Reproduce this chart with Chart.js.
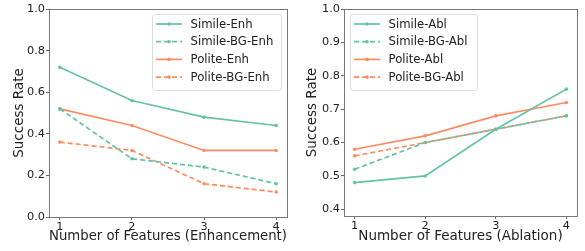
<!DOCTYPE html>
<html><head><meta charset="utf-8">
<script src="https://cdn.jsdelivr.net/npm/chart.js@4"></script>
<style>
html,body{margin:0;padding:0;background:#fff;width:585px;height:251px;overflow:hidden}
.w{position:absolute;top:0;height:251px}
</style></head><body>
<div class="w" style="left:0;width:292px"><canvas id="c1"></canvas></div>
<div class="w" style="left:292px;width:293px"><canvas id="c2"></canvas></div>
<script>
const xValues = [1, 2, 3, 4];
const enhLabels = ["Simile-Enh", "Simile-BG-Enh", "Polite-Enh", "Polite-BG-Enh"];
const simileEnh = [0.72, 0.56, 0.48, 0.44];
const simileBGEnh = [0.52, 0.28, 0.24, 0.16];
const politeEnh = [0.52, 0.44, 0.32, 0.32];
const politeBGEnh = [0.36, 0.32, 0.16, 0.12];
const ablLabels = ["Simile-Abl", "Simile-BG-Abl", "Polite-Abl", "Polite-BG-Abl"];
const simileAbl = [0.48, 0.50, 0.64, 0.76];
const simileBGAbl = [0.52, 0.60, 0.64, 0.68];
const politeAbl = [0.58, 0.62, 0.68, 0.72];
const politeBGAbl = [0.56, 0.60, 0.64, 0.68];
const yTicksEnh = [0.0, 0.2, 0.4, 0.6, 0.8, 1.0];
const yTicksAbl = [0.4, 0.5, 0.6, 0.7, 0.8, 0.9, 1.0];

const GREEN = '#66c2a5', ORANGE = '#fc8d62';
const FONT = 'DejaVu Sans';
const DASH = [5, 3];

function ds(label, vals, color, dashed) {
  return {
    label, data: vals.map((v, i) => ({x: xValues[i], y: v})),
    borderColor: color, backgroundColor: color, borderWidth: 1.7,
    borderDash: dashed ? DASH : [], pointRadius: 1.8, pointHoverRadius: 1.8,
    pointBorderWidth: 0, tension: 0, fill: false
  };
}

const framePlugin = {
  id: 'frame',
  afterDatasetsDraw(chart, args, opts) {
    const ctx = chart.ctx, a = chart.chartArea;
    ctx.save();
    ctx.strokeStyle = '#777'; ctx.lineWidth = 1;
    ctx.strokeRect(Math.round(a.left) + 0.5, Math.round(a.top) + 0.5,
      Math.round(a.right - a.left), Math.round(a.bottom - a.top));
    const L = opts.legend;
    const x0 = a.left + L.x, y0 = a.top + L.y, w = L.w, h = L.h;
    ctx.globalAlpha = 0.85;
    ctx.fillStyle = '#fff';
    ctx.beginPath();
    ctx.roundRect(x0 + 0.5, y0 + 0.5, w, h, 3);
    ctx.fill();
    ctx.globalAlpha = 1;
    ctx.strokeStyle = '#dcdcdc';
    ctx.stroke();
    ctx.font = '11.7px "' + FONT + '"';
    ctx.textBaseline = 'middle';
    chart.data.datasets.forEach((d, i) => {
      const yy = y0 + 10 + i * 17.7;
      const lx = x0 + 4;
      ctx.strokeStyle = d.borderColor; ctx.lineWidth = 1.7;
      ctx.setLineDash(d.borderDash);
      ctx.beginPath(); ctx.moveTo(lx, yy); ctx.lineTo(lx + 26, yy); ctx.stroke();
      ctx.setLineDash([]);
      ctx.fillStyle = d.borderColor;
      ctx.beginPath(); ctx.arc(lx + 13, yy, 1.8, 0, Math.PI * 2); ctx.fill();
      ctx.fillStyle = '#222';
      ctx.fillText(d.label, lx + 34.5, yy + 0.5);
    });
    ctx.restore();
  }
};

function make(id, datasets, yMin, yMax, yTicks, xTitle, yW, xH, rightPad, yTitlePad, legend) {
  return new Chart(document.getElementById(id), {
    type: 'line',
    data: {datasets},
    options: {
      responsive: true, maintainAspectRatio: false, animation: false,
      layout: {padding: {top: 9, right: rightPad, left: 0, bottom: 0}},
      plugins: {legend: {display: false}, tooltip: {enabled: false}, frame: {legend}},
      scales: {
        x: {
          type: 'linear', min: 0.85, max: 4.15,
          afterBuildTicks: s => { s.ticks = xValues.map(v => ({value: v})); },
          afterFit: s => { s.height = xH; },
          grid: {display: true, drawOnChartArea: false, tickLength: 3, color: '#666', drawTicks: true},
          border: {display: false},
          ticks: {font: {family: FONT, size: 11.3}, color: '#222', padding: 0,
                  callback: v => String(v)},
          title: {display: true, text: xTitle, font: {family: FONT, size: 13.5}, color: '#222', padding: {top: 0, bottom: 6}}
        },
        y: {
          min: yMin, max: yMax,
          afterBuildTicks: s => { s.ticks = yTicks.map(v => ({value: v})); },
          afterFit: s => { s.width = yW; },
          grid: {display: true, drawOnChartArea: false, tickLength: 3, color: '#666'},
          border: {display: false},
          ticks: {font: {family: FONT, size: 11.3}, color: '#222', padding: 1,
                  callback: v => Number(v).toFixed(1)},
          title: {display: true, text: 'Success Rate', font: {family: FONT, size: 13.5}, color: '#222', padding: {top: yTitlePad, bottom: 0}}
        }
      }
    },
    plugins: [framePlugin]
  });
}

make('c1', [
  ds(enhLabels[0], simileEnh, GREEN, false),
  ds(enhLabels[1], simileBGEnh, GREEN, true),
  ds(enhLabels[2], politeEnh, ORANGE, false),
  ds(enhLabels[3], politeBGEnh, ORANGE, true)
], 0, 1, yTicksEnh, 'Number of Features (Enhancement)', 49, 34, 5, 11,
  {x: 103, y: 5, w: 129, h: 76});

make('c2', [
  ds(ablLabels[0], simileAbl, GREEN, false),
  ds(ablLabels[1], simileBGAbl, GREEN, true),
  ds(ablLabels[2], politeAbl, ORANGE, false),
  ds(ablLabels[3], politeBGAbl, ORANGE, true)
], 0.38, 1.0, yTicksAbl, 'Number of Features (Ablation)', 52, 35, 8, 12,
  {x: 6, y: 5, w: 127, h: 76});
</script>
</body></html>
